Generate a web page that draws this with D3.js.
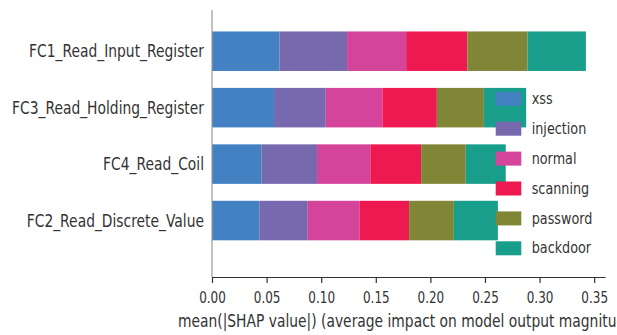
<!DOCTYPE html>
<html>
<head>
<meta charset="utf-8">
<script src="https://cdn.jsdelivr.net/npm/d3@7/dist/d3.min.js"></script>
<style>
  html, body { margin: 0; padding: 0; background: #fff; }
  svg { display: block; }
  text { font-family: "DejaVu Sans", sans-serif; fill: #333; }
</style>
</head>
<body>
<svg id="chart" width="617" height="335"></svg>
<script>
// Features, top to bottom
const features = [
  "FC1_Read_Input_Register",
  "FC3_Read_Holding_Register",
  "FC4_Read_Coil",
  "FC2_Read_Discrete_Value"
];
const classes = ["xss", "injection", "normal", "scanning", "password", "backdoor"];

// mean(|SHAP|) per class, one value per feature (same order as features)
const xss       = [0.0617, 0.0568, 0.0452, 0.0433];
const injection = [0.0620, 0.0474, 0.0510, 0.0444];
const normal    = [0.0541, 0.0518, 0.0488, 0.0473];
const scanning  = [0.0561, 0.0499, 0.0465, 0.0455];
const password  = [0.0550, 0.0431, 0.0409, 0.0410];
const backdoor  = [0.0535, 0.0387, 0.0366, 0.0403];

const xTicks = [0.00, 0.05, 0.10, 0.15, 0.20, 0.25, 0.30, 0.35];
const xLabel = "mean(|SHAP value|) (average impact on model output magnitude)";

const colors = ["#4381c3", "#7669ae", "#d4449a", "#ee1951", "#7f8737", "#199e8c"];

const seriesByClass = { xss, injection, normal, scanning, password, backdoor };
const rows = features.map((f, i) => {
  const r = { feature: f };
  classes.forEach(c => { r[c] = seriesByClass[c][i]; });
  return r;
});

const svg = d3.select("#chart");
const squeeze = 0.8;      // horizontally condensed lettering
const squeezeLabel = 0.815;

const plotLeft = 212, plotRight = 605.1, plotTop = 10, plotBottom = 277;

const x = d3.scaleLinear().domain([0, 0.36]).range([plotLeft, plotRight]);
// feature rows sit at integer positions, FC2 at 0 up to FC1 at 3
const y = d3.scaleLinear().domain([-1, 3.73]).range([plotBottom, plotTop]);
const rowPos = i => features.length - 1 - i;
const barH = y(0) - y(0.7);

const stack = d3.stack().keys(classes)(rows);
const color = d3.scaleOrdinal().domain(classes).range(colors);

// stacked horizontal bars
svg.append("g").selectAll("g")
  .data(stack)
  .join("g")
  .attr("fill", d => color(d.key))
  .selectAll("rect")
  .data(d => d.map((v, i) => ({ v, i })))
  .join("rect")
  .attr("x", d => x(d.v[0]))
  .attr("width", d => x(d.v[1]) - x(d.v[0]))
  .attr("y", d => y(rowPos(d.i)) - barH / 2)
  .attr("height", barH);

// left spine
svg.append("line")
  .attr("x1", plotLeft).attr("x2", plotLeft)
  .attr("y1", plotTop).attr("y2", plotBottom)
  .attr("stroke", "#999").attr("stroke-width", 1.2);

// feature labels
svg.append("g").selectAll("text")
  .data(features)
  .join("text")
  .attr("transform", (d, i) => `translate(204,${y(rowPos(i))}) scale(${squeezeLabel},1)`)
  .attr("text-anchor", "end")
  .attr("dy", "0.36em")
  .attr("font-size", 17)
  .text(d => d);

// x axis
const xAxis = svg.append("g")
  .attr("transform", `translate(0,${plotBottom})`)
  .call(d3.axisBottom(x).tickValues(xTicks).tickFormat(d3.format(".2f")).tickSize(6).tickSizeOuter(0).tickPadding(9));
xAxis.select(".domain").attr("stroke", "#333").attr("stroke-width", 1.2);
xAxis.selectAll(".tick line").attr("stroke", "#333").attr("stroke-width", 1.2);
xAxis.selectAll(".tick text")
  .attr("font-size", 15)
  .attr("font-family", "DejaVu Sans, sans-serif")
  .attr("fill", "#333")
  .attr("transform", `scale(${squeeze},1)`);

// x axis title (runs past the right edge of the canvas)
svg.append("text")
  .attr("transform", `translate(${(plotLeft + plotRight) / 2},327) scale(${squeezeLabel},1)`)
  .attr("text-anchor", "middle")
  .attr("font-size", 17)
  .text(xLabel);

// legend
const legend = svg.append("g").selectAll("g")
  .data(classes)
  .join("g")
  .attr("transform", (d, i) => `translate(0,${98.8 + i * 29.9})`);
legend.append("rect")
  .attr("x", 495.7).attr("y", -7)
  .attr("width", 25.6).attr("height", 14)
  .attr("fill", d => color(d));
legend.append("text")
  .attr("transform", `translate(531.7,0) scale(${squeeze},1)`)
  .attr("dy", "0.32em")
  .attr("font-size", 16)
  .text(d => d);
</script>
</body>
</html>
